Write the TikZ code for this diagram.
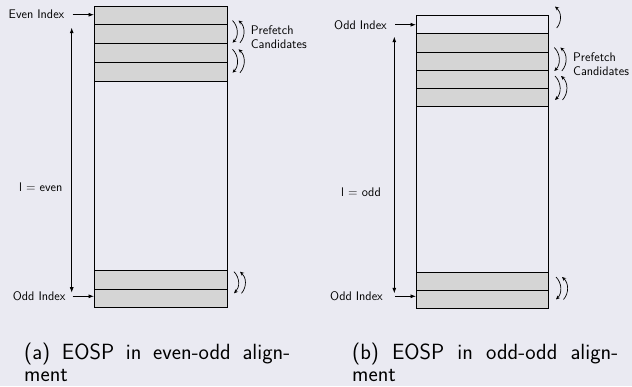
\documentclass[tikz,border=0pt]{standalone}
\usepackage{fontspec}
\usetikzlibrary{arrows.meta}
\definecolor{bg}{RGB}{234,234,242}
\definecolor{rowgray}{RGB}{213,213,213}
\begin{document}
\begin{tikzpicture}[x=1pt,y=-1pt,
  lbl/.style={font=\sffamily\fontsize{12.5}{14}\selectfont, inner sep=0pt},
  captext/.style={font=\sffamily\fontsize{22}{22}\selectfont, inner sep=0pt, anchor=base west},
  cell/.style={draw=black, line width=0.9pt, minimum height=18.75pt, anchor=north west, inner sep=0pt, outer sep=0pt},
  cellA/.style={cell, minimum width=133pt},
  cellB/.style={cell, minimum width=132pt, minimum height=18.2pt},
  shade/.style={fill=rowgray},
  arr/.style={-{Latex[length=5.5pt,width=4pt]}, line width=0.75pt},
  darr/.style={{Latex[length=5.5pt,width=4pt]}-{Latex[length=5.5pt,width=4pt]}, line width=0.75pt},
  carr/.style={-{Stealth[length=4pt,width=3.6pt]}, line width=0.7pt}]
\useasboundingbox (0,0) rectangle (632,386);
\fill[bg] (0,0) rectangle (632,386);

% ---------- left memory block ----------
\node[cellA, shade] (a1) at (94,6) {};
\node[cellA, shade] (a2) at (a1.south west) {};
\node[cellA, shade] (a3) at (a2.south west) {};
\node[cellA, shade] (a4) at (a3.south west) {};
\node[cellA, minimum height=189.5pt] (a5) at (a4.south west) {};
\node[cellA, shade, minimum height=18.6pt] (a6) at (a5.south west) {};
\node[cellA, shade, minimum height=18.6pt] (a7) at (a6.south west) {};

\node[lbl, anchor=east] (ei) at (64.5,14.7) {Even Index};
\coordinate (eis) at (72.7,14.7);
\draw[arr] (eis) -- (eis -| a1.west);
\node[lbl, anchor=east] (oia) at (65.7,296.3) {Odd Index};
\coordinate (oias) at (72.7,296.3);
\draw[arr] (oias) -- (oias -| a7.west);

\coordinate (at) at (71.7,27.7);
\coordinate (ab) at (71.7,292.7);
\draw[darr] (at) -- (ab);
\node[lbl] (le) at (40.8,187) {l = even};

\node[lbl, align=left, anchor=west] (pca) at (250.7,37) {Prefetch\\Candidates};

\foreach \x/\t/\b in {232.5/20.5/42.7, 232.5/49.3/72.7, 234/271.7/293.3}{
  \draw[carr] (\x,\t) to[bend left=45] (\x,\b);
  \draw[carr] (\x+7.5,\b) to[bend right=45] (\x+6,\t);
}

% ---------- right memory block ----------
\node[cellB] (b1) at (416,15.7) {};
\node[cellB, shade] (b2) at (b1.south west) {};
\node[cellB, shade] (b3) at (b2.south west) {};
\node[cellB, shade] (b4) at (b3.south west) {};
\node[cellB, shade] (b5) at (b4.south west) {};
\node[cellB, minimum height=165.3pt] (b6) at (b5.south west) {};
\node[cellB, shade, minimum height=18pt] (b7) at (b6.south west) {};
\node[cellB, shade, minimum height=18pt] (b8) at (b7.south west) {};

\node[lbl, anchor=east] (oib) at (387,24.7) {Odd Index};
\coordinate (oibs) at (395,24.7);
\draw[arr] (oibs) -- (oibs -| b1.west);
\node[lbl, anchor=east] (oic) at (383,296.3) {Odd Index};
\coordinate (oics) at (395,296.3);
\draw[arr] (oics) -- (oics -| b8.west);

\coordinate (bt) at (394.3,36.7);
\coordinate (bb) at (394.3,293.3);
\draw[darr] (bt) -- (bb);
\node[lbl] (lo) at (361,192) {l = odd};

\node[lbl, align=left, anchor=west] (pcb) at (573,64) {Prefetch\\Candidates};

\draw[carr] (556.7,28) to[bend right=45] (555,6.5);
\foreach \x/\t/\b in {554.3/47.5/71, 555/76/100, 556/277/299.5}{
  \draw[carr] (\x,\t) to[bend left=45] (\x,\b);
  \draw[carr] (\x+7.5,\b) to[bend right=45] (\x+6,\t);
}

% ---------- captions ----------
\node[captext] (capa1) at (24,359.5) {\hbox to 266pt{(a) EOSP in even-odd align-}};
\node[captext] (capa2) at (24,381.5) {ment};
\node[captext] (capb1) at (352,359.5) {\hbox to 266pt{(b) EOSP in odd-odd align-}};
\node[captext] (capb2) at (352,381.5) {ment};
\end{tikzpicture}
\end{document}
